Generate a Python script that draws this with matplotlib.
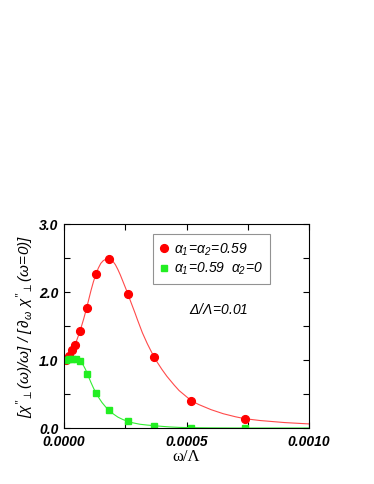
import matplotlib
matplotlib.use("Agg")
import matplotlib.pyplot as plt
from matplotlib.ticker import MultipleLocator, FormatStrFormatter

plt.rcParams['font.family'] = ['Liberation Sans', 'DejaVu Sans']
plt.rcParams['mathtext.fontset'] = 'custom'
# all math text in the reference is slanted, digits included
plt.rcParams['mathtext.rm'] = 'Liberation Sans:italic'
plt.rcParams['mathtext.it'] = 'Liberation Sans:italic'
plt.rcParams['mathtext.bf'] = 'Liberation Sans:bold:italic'

# data points (omega/Lambda, normalised response)
red_x = [0.0000095, 0.000020, 0.000031, 0.000046, 0.000065, 0.000092,
         0.000130, 0.000184, 0.000261, 0.000368, 0.000520, 0.000738]
red_y = [1.00, 1.06, 1.14, 1.22, 1.42, 1.76, 2.26, 2.48, 1.97, 1.04, 0.40, 0.137]

green_x = [0.0000095, 0.000020, 0.000031, 0.000047, 0.000065, 0.0000946,
           0.000131, 0.000185, 0.000260, 0.000368, 0.000520, 0.000738]
green_y = [1.00, 1.01, 1.01, 1.01, 0.99, 0.80, 0.51, 0.26, 0.098, 0.034, 0.0, 0.0]

# fitted curves
red_cx = [0.0, 0.00001, 0.00002, 0.00003, 0.000046, 0.000065, 0.00008, 0.000092,
          0.00011, 0.00012, 0.00013, 0.00014, 0.00015, 0.00016, 0.00017, 0.000182,
          0.00019, 0.0002, 0.00021, 0.00022, 0.00023, 0.00024, 0.00025, 0.000261,
          0.00027, 0.00029, 0.0003, 0.00032, 0.00034, 0.000368, 0.00038, 0.0004,
          0.00042, 0.00045, 0.00047, 0.00052, 0.00055, 0.0006, 0.00065, 0.0007,
          0.000738, 0.0008, 0.0009, 0.001]
red_cy = [0.99, 1.01, 1.06, 1.13, 1.23, 1.42, 1.60, 1.76, 2.02, 2.15, 2.26, 2.35,
          2.42, 2.46, 2.48, 2.485, 2.48, 2.45, 2.40, 2.33, 2.25, 2.16, 2.07, 1.97,
          1.88, 1.69, 1.59, 1.40, 1.24, 1.04, 0.97, 0.86, 0.76, 0.63, 0.55, 0.40,
          0.345, 0.27, 0.21, 0.165, 0.137, 0.11, 0.08, 0.06]

green_cx = [0.0, 0.00002, 0.000035, 0.000047, 0.000056, 0.000065, 0.000072,
            0.00008, 0.000088, 0.000095, 0.000103, 0.00011, 0.00012, 0.000131,
            0.000143, 0.000155, 0.00017, 0.000185, 0.0002, 0.00022, 0.00024,
            0.00026, 0.00028, 0.00031, 0.00034, 0.000368, 0.0004, 0.00043,
            0.00047, 0.00052, 0.0006, 0.0007, 0.001]
green_cy = [1.00, 1.01, 1.01, 1.005, 1.0, 0.985, 0.96, 0.915, 0.86, 0.80, 0.73,
            0.67, 0.59, 0.51, 0.44, 0.375, 0.31, 0.26, 0.21, 0.16, 0.125,
            0.098, 0.077, 0.055, 0.043, 0.034, 0.024, 0.016, 0.009, 0.005,
            0.002, 0.0, 0.0]

fig = plt.figure(figsize=(3.74, 4.84), dpi=100)
ax = fig.add_axes([64 / 374, 56 / 484, 245 / 374, 204 / 484])

ax.plot(red_cx, red_cy, color='#ff4a4a', lw=0.8)
ax.plot(green_cx, green_cy, color='#33ee33', lw=0.8)
ax.plot(red_x, red_y, 'o', color='#ff0000', ms=5.6, ls='none',
        label=r'$\alpha_{1}\!=\!\alpha_{2}\!=\!0.59$')
ax.plot(green_x, green_y, 's', color='#22ee22', ms=4.3, ls='none',
        label=r'$\alpha_{1}\!=\!0.59\ \ \alpha_{2}\!=\!0$')

ax.set_xlim(0, 0.001)
ax.set_ylim(0, 3.0)
ax.xaxis.set_major_locator(MultipleLocator(0.0005))
ax.xaxis.set_minor_locator(MultipleLocator(0.00025))
ax.yaxis.set_major_locator(MultipleLocator(1.0))
ax.yaxis.set_minor_locator(MultipleLocator(0.5))
ax.xaxis.set_major_formatter(FormatStrFormatter('%.4f'))
ax.yaxis.set_major_formatter(FormatStrFormatter('%.1f'))
ax.tick_params(which='both', direction='in', top=True, right=True, width=0.8)
ax.tick_params(which='major', length=4)
ax.tick_params(which='minor', length=4)
ax.tick_params(axis='x', pad=5)
ax.tick_params(axis='y', pad=4)
for lab in ax.get_xticklabels() + ax.get_yticklabels():
    lab.set_fontweight('bold')
    lab.set_fontstyle('italic')
    lab.set_fontsize(10)
for s in ax.spines.values():
    s.set_linewidth(0.8)

ax.set_xlabel('ω/Λ', fontsize=12, family='Liberation Serif', labelpad=0)
ax.set_ylabel(r"$[\chi''_{\perp}(\omega)/\omega]\ /\ [\,\partial_{\omega}\ \chi''_{\perp}(\omega\!=\!0)]$",
              fontsize=11, labelpad=2)

ax.text(0.00063, 1.74, r'$\Delta/\Lambda\!=\!0.01$', fontsize=10,
        ha='center', va='center')

leg = ax.legend(loc='upper left', bbox_to_anchor=(0.363, 0.95), fontsize=10,
                frameon=True, fancybox=False, handlelength=0.6, handletextpad=0.4,
                borderpad=0.5, labelspacing=0.25, borderaxespad=0)
leg.get_frame().set_edgecolor('#777777')
leg.get_frame().set_linewidth(0.8)

fig.savefig('out.png', dpi=100)
